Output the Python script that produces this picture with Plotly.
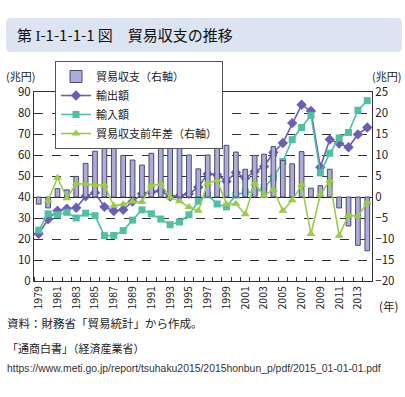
import plotly.graph_objects as go

years = list(range(1979, 2015))
exports = [22.5, 29.4, 33.5, 34.4, 34.9, 40.3, 42.0, 35.3, 33.3, 33.9,
           37.8, 41.5, 42.4, 43.0, 40.2, 40.5, 41.5, 44.7, 51.0, 50.6,
           47.5, 51.7, 49.0, 52.1, 54.5, 61.2, 65.7, 75.2, 83.9, 81.0,
           54.2, 67.4, 65.5, 63.7, 69.8, 73.1]
imports = [24.2, 32.0, 31.5, 32.7, 30.0, 32.3, 31.1, 21.6, 21.7, 24.0,
           29.0, 33.9, 32.0, 29.5, 26.8, 28.1, 31.5, 38.0, 41.0, 36.7,
           35.3, 40.9, 42.4, 42.2, 44.4, 49.2, 56.9, 67.3, 73.1, 78.9,
           51.5, 60.8, 68.1, 70.7, 81.3, 85.9]
balance = [-1.7, -2.6, 2.0, 1.7, 4.9, 8.0, 10.9, 13.7, 11.6, 9.9,
           8.8, 7.6, 10.4, 13.5, 13.4, 12.4, 10.0, 6.7, 10.0, 14.0,
           12.3, 10.7, 6.6, 9.9, 10.2, 12.0, 8.7, 7.9, 10.8, 2.1,
           2.7, 6.6, -2.6, -6.9, -11.5, -12.8]
balance_diff = [None, -0.9, 4.6, -0.3, 3.2, 3.1, 2.9, 2.8, -2.1, -1.7,
                -1.1, -1.2, 2.8, 3.1, -0.1, -1.0, -2.4, -3.3, 3.3, 4.0,
                -1.7, -1.6, -4.1, 3.3, 0.3, 1.8, -3.3, -0.8, 2.9, -8.8,
                0.6, 3.9, -9.2, -4.3, -4.6, -1.3]
year_labels = [str(y) for y in years[::2]]

W, H = 405, 397
L, R, T, B = 34, 372, 92, 281

def px(x):
    return (x - L) / (R - L)

def py(y):
    return (B - y) / (B - T)

FONT = "Noto Sans CJK JP"

fig = go.Figure()
fig.add_trace(go.Bar(
    x=years, y=balance, yaxis="y2", name="貿易収支（右軸）",
    marker=dict(color="#abacd8", line=dict(color="#4a4a6e", width=1)),
))
fig.add_trace(go.Scatter(
    x=years, y=exports, name="輸出額", mode="lines+markers",
    line=dict(color="#6a5fb5", width=1.6),
    marker=dict(symbol="diamond", size=8, color="#6a5fb5"),
))
fig.add_trace(go.Scatter(
    x=years, y=imports, name="輸入額", mode="lines+markers",
    line=dict(color="#4fc0a2", width=1.6),
    marker=dict(symbol="square", size=7, color="#4fc0a2"),
))
fig.add_trace(go.Scatter(
    x=years, y=balance_diff, yaxis="y2", name="貿易収支前年差（右軸）",
    mode="lines+markers",
    line=dict(color="#9acb4a", width=1.6),
    marker=dict(symbol="triangle-up", size=8, color="#9acb4a"),
))

# rounded title box
x0, x1, y0, y1, r = px(6), px(402), py(18), py(52), 5
rx, ry = r / (R - L), r / (B - T)
path = (f"M {x0+rx},{y0} L {x1-rx},{y0} Q {x1},{y0} {x1},{y0-ry} "
        f"L {x1},{y1+ry} Q {x1},{y1} {x1-rx},{y1} L {x0+rx},{y1} "
        f"Q {x0},{y1} {x0},{y1+ry} L {x0},{y0-ry} Q {x0},{y0} {x0+rx},{y0} Z")

fig.update_layout(
    width=W, height=H,
    margin=dict(l=L, r=W - R, t=T, b=H - B, pad=0),
    paper_bgcolor="white", plot_bgcolor="white",
    font=dict(family=FONT, size=11, color="#222"),
    bargap=0.5,
    showlegend=True,
    legend=dict(
        x=px(55), y=py(61), xanchor="left", yanchor="top",
        bgcolor="white", bordercolor="#555", borderwidth=1,
        font=dict(size=11, family=FONT, color="#222"),
        tracegroupgap=0, itemwidth=30,
    ),
    xaxis=dict(
        range=[1978.5, 2014.5], tickmode="array", tickvals=years[::2],
        ticktext=year_labels, tickangle=-90, ticks="", showgrid=False,
        showline=True, linecolor="#333", linewidth=1, mirror=True,
        tickfont=dict(size=10.5, family=FONT),
        minor=dict(tick0=1978.5, dtick=1, ticks="inside", ticklen=4,
                   tickcolor="#333", showgrid=False),
        zeroline=False,
    ),
    yaxis=dict(
        range=[0, 90], dtick=10, showgrid=True, gridcolor="#333",
        griddash="dash", gridwidth=0.8, showline=True, linecolor="#333",
        linewidth=1, ticks="", zeroline=False,
        tickfont=dict(size=11.5, family=FONT),
    ),
    yaxis2=dict(
        range=[-20, 25], dtick=5, overlaying="y", side="right",
        showgrid=False, showline=True, linecolor="#333", linewidth=1,
        ticks="", zeroline=True, zerolinecolor="#222", zerolinewidth=1.2,
        tickfont=dict(size=11.5, family=FONT),
    ),
    shapes=[dict(type="path", path=path, xref="paper", yref="paper",
                 fillcolor="#dce3f1", line=dict(width=0), layer="below")],
    annotations=[
        dict(text="第 <span style='font-family:Liberation Serif'>I</span>-1-1-1-1 図　貿易収支の推移",
             x=px(15), y=py(35),
             xref="paper", yref="paper", xanchor="left", yanchor="middle",
             showarrow=False, font=dict(size=15, family=FONT, color="#111")),
        dict(text="(兆円)", x=px(20), y=py(76), xref="paper", yref="paper",
             xanchor="center", yanchor="middle", showarrow=False,
             font=dict(size=11, family=FONT)),
        dict(text="(兆円)", x=px(386), y=py(76), xref="paper", yref="paper",
             xanchor="center", yanchor="middle", showarrow=False,
             font=dict(size=11, family=FONT)),
        dict(text="(年)", x=px(388), y=py(306), xref="paper", yref="paper",
             xanchor="center", yanchor="middle", showarrow=False,
             font=dict(size=11.5, family=FONT)),
        dict(text="資料：財務省「貿易統計」から作成。", x=px(5), y=py(323),
             xref="paper", yref="paper", xanchor="left", yanchor="middle",
             showarrow=False, font=dict(size=11.5, family=FONT)),
        dict(text="「通商白書」（経済産業省）", x=px(5), y=py(348),
             xref="paper", yref="paper", xanchor="left", yanchor="middle",
             showarrow=False, font=dict(size=11, family=FONT)),
        dict(text="https://www.meti.go.jp/report/tsuhaku2015/2015honbun_p/pdf/2015_01-01-01.pdf",
             x=px(5), y=py(368), xref="paper", yref="paper", xanchor="left",
             yanchor="middle", showarrow=False,
             font=dict(size=10.4, family="Liberation Sans", color="#333")),
    ],
)

fig.write_html("out.html", config={"displayModeBar": False},
               post_script="document.body.style.margin='0';document.body.style.padding='0';")
